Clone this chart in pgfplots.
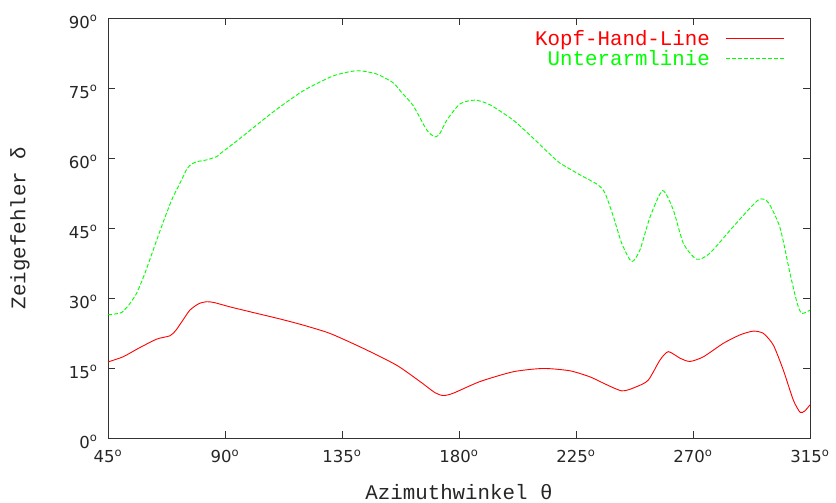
\documentclass[border=0pt]{standalone}
\usepackage{pgfplots}
\pgfplotsset{compat=1.18}
\usepackage{fontspec}
\setmainfont{Liberation Mono}
\newfontfamily\tickfont{DejaVu Sans}
\newcommand{\dg}{\textsuperscript{o}}
\pgfplotstableread{
x y
45 16.3
50.8 17.4
57 19.3
63.8 21.2
68.8 21.9
71 23
73.5 25
76.5 27.4
80 28.8
83.1 29.2
86 29.0
91.9 28.1
100 27.0
111.2 25.5
120 24.2
130.4 22.4
143.2 19.2
156.0 15.6
165.0 12.1
170.8 9.7
174.0 9.1
177.8 9.6
188.1 12.1
200.9 14.2
212.4 14.9
222.7 14.4
230.4 13.1
234.2 12.1
242.6 10.1
248.3 11.0
252.8 12.4
257.3 16.7
260.5 18.5
265.0 17.1
268.8 16.4
274.0 17.4
281.7 20.3
288.1 22.1
293.2 22.9
297.1 22.4
300.9 19.9
304.7 14.6
308.6 8.1
311.2 5.5
313 5.8
315 7.1
}\kopf
\pgfplotstableread{
x y
45 26.4
48 26.6
50.3 26.9
53 28.5
56.0 31.0
59.2 35.3
62.4 40.3
65.6 45.3
69.5 51.0
73.3 55.3
75.5 57.8
77.2 58.7
79.1 59.2
83.0 59.6
86.8 60.3
88.1 60.9
95.8 64.2
108.6 69.9
120.1 74.4
131.7 77.6
140.7 78.7
148.3 78.0
154.7 76.1
158 74.0
162.4 71.2
167.6 66.0
170.8 64.5
172.7 65.3
175.3 68.1
180.4 71.6
186.2 72.4
191.9 71.4
200.9 68.1
208.6 64.2
216.3 60.1
218.8 58.9
226.5 56.4
233.6 54.2
236.2 52.4
239.4 47.4
242.6 41.7
246.4 37.8
249.6 40.3
253.5 47.4
258.3 53.0
262.4 48.9
266.3 41.7
271.4 38.3
276.5 39.6
285.5 45.3
295.1 51.0
299.0 50.4
303.5 45.0
307.3 35.3
310 29.0
311.8 26.7
315 27.4
}\unter
\begin{document}
\begin{tikzpicture}
\begin{axis}[
  scale only axis, width=702pt, height=420pt,
  xmin=45, xmax=315, ymin=0, ymax=90,
  xtick={45,90,...,315}, ytick={0,15,...,90},
  xticklabels={45\dg,90\dg,135\dg,180\dg,225\dg,270\dg,315\dg},
  yticklabels={0\dg,15\dg,30\dg,45\dg,60\dg,75\dg,90\dg},
  tick align=inside, major tick length=7pt,
  axis line style={draw=black!80, line width=0.9pt},
  tick style={draw=black!80, line width=0.9pt},
  ticklabel style={font=\tickfont\fontsize{16.5}{18}\selectfont, text=black!85},
  xticklabel style={yshift=-8.5pt},
  yticklabel style={xshift=-7pt, yshift=-4pt},
  xlabel={Azimuthwinkel θ}, ylabel={Zeigefehler δ},
  every axis x label/.style={at={(axis description cs:0.5,-0.1286)}, anchor=center},
  every axis y label/.style={at={(axis description cs:-0.1254,0.5)}, anchor=center, rotate=90},
  label style={font=\fontsize{20.8}{22}\selectfont, text=black!85},
  legend plot pos=right,
  legend cell align=right,
  legend image code/.code={\draw[#1] (0pt,0pt) -- (58pt,0pt);},
  legend style={draw=none, fill=none, at={(axis description cs:0.9644,0.976)}, anchor=north east,
    inner sep=0pt, column sep=14pt, row sep=-0.5pt,
    font=\fontsize{20.8}{22}\selectfont},
]
\coordinate (sw) at (rel axis cs:0,0);
\coordinate (ne) at (rel axis cs:1,1);
\addplot[red, line width=0.9pt, smooth, tension=0.4] table[x=x,y=y] {\kopf};
\addlegendentry{\textcolor{red}{Kopf-Hand-Line}}
\addplot[green, line width=0.9pt, smooth, tension=0.4, dash pattern=on 4pt off 2pt] table[x=x,y=y] {\unter};
\addlegendentry{\textcolor{green}{Unterarmlinie}}
\end{axis}
\pgfresetboundingbox
\path ([shift={(-108pt,-65pt)}]sw) rectangle ([shift={(26pt,18pt)}]ne);
\end{tikzpicture}
\end{document}
